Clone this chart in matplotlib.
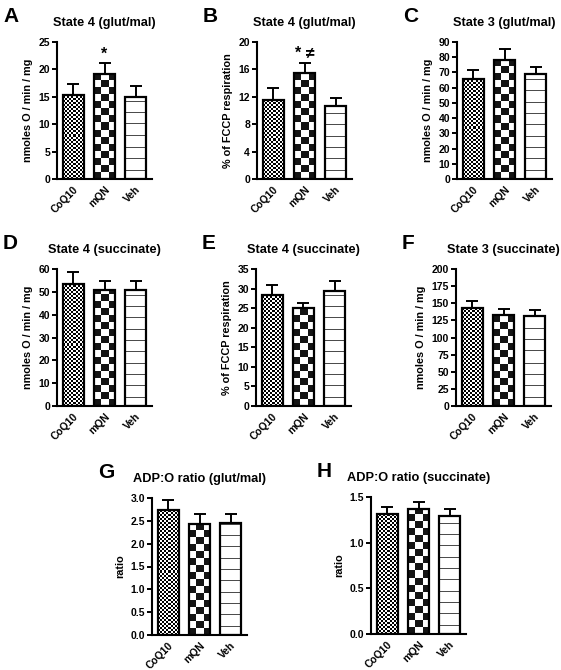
import numpy as np
import matplotlib
matplotlib.use("Agg")
import matplotlib.pyplot as plt
from matplotlib.ticker import FormatStrFormatter

plt.rcParams.update({
    "font.family": ["Liberation Sans", "DejaVu Sans"],
    "font.weight": "bold",
    "axes.labelweight": "bold",
    "axes.titleweight": "bold",
})

groups = ["CoQ10", "mQN", "Veh"]
textures = ["fine", "coarse", "lines"]

# means and upper error (SEM)
a_mean = [15.4, 19.2, 15.0]
a_err = [2.0, 1.9, 1.9]
b_mean = [11.6, 15.5, 10.6]
b_err = [1.7, 1.5, 1.2]
c_mean = [65.8, 78.4, 68.9]
c_err = [5.5, 7.2, 4.8]
d_mean = [53.6, 50.7, 50.8]
d_err = [4.9, 3.9, 4.0]
e_mean = [28.3, 25.0, 29.3]
e_err = [2.5, 1.3, 2.7]
f_mean = [142.7, 132.5, 132.0]
f_err = [10.2, 8.8, 7.8]
g_mean = [2.74, 2.43, 2.45]
g_err = [0.22, 0.21, 0.20]
h_mean = [1.31, 1.37, 1.29]
h_err = [0.08, 0.08, 0.08]

nmol = "nmoles O / min / mg"
fccp = "% of FCCP respiration"

# letter, title, ylabel, means, errs, ymax, ystep, fmt, annotation, (left px, top px)
panels = [
    ("A", "State 4 (glut/mal)", nmol, a_mean, a_err, 25, 5, "%d", "*", (57, 42)),
    ("B", "State 4 (glut/mal)", fccp, b_mean, b_err, 20, 4, "%d", "* \u2260", (257, 42)),
    ("C", "State 3 (glut/mal)", nmol, c_mean, c_err, 90, 10, "%d", None, (457, 42)),
    ("D", "State 4 (succinate)", nmol, d_mean, d_err, 60, 10, "%d", None, (57, 269)),
    ("E", "State 4 (succinate)", fccp, e_mean, e_err, 35, 5, "%d", None, (256, 269)),
    ("F", "State 3 (succinate)", nmol, f_mean, f_err, 200, 25, "%d", None, (456, 269)),
    ("G", "ADP:O ratio (glut/mal)", "ratio", g_mean, g_err, 3.0, 0.5, "%.1f", None, (152, 498)),
    ("H", "ADP:O ratio (succinate)", "ratio", h_mean, h_err, 1.5, 0.5, "%.1f", None, (371, 497)),
]

W, H = 561, 670
AX_W, AX_H = 95, 137


def pattern(kind, w, h):
    yy, xx = np.mgrid[0:h, 0:w]
    if kind == "fine":
        return ((xx // 2 + yy // 2) % 2).astype(float)
    if kind == "coarse":
        return 0.08 + 0.92 * (((xx // 7) + (yy // 7)) % 2)
    img = np.ones((h, w))
    img[(yy >= 8) & (((yy - 8) % 11.3) < 1)] = 0.3
    return img


fig = plt.figure(figsize=(W / 100, H / 100), dpi=100)

for letter, title, ylab, means, errs, ymax, ystep, fmt, note, (lx, ty) in panels:
    ax = fig.add_axes([lx / W, (H - ty - AX_H) / H, AX_W / W, AX_H / H])
    x = np.arange(len(groups))
    ax.set_xlim(-0.53, 2.53)
    ax.set_ylim(0, ymax)

    bars = ax.bar(x, means, width=0.68, facecolor="none", edgecolor="black",
                  linewidth=1.6, zorder=3)
    for bar, kind in zip(bars, textures):
        x0, y0 = ax.transData.transform((bar.get_x(), 0))
        x1, y1 = ax.transData.transform((bar.get_x() + bar.get_width(), bar.get_height()))
        img = pattern(kind, max(int(round(x1 - x0)), 1), max(int(round(y1 - y0)), 1))
        ax.imshow(img, cmap="gray", vmin=0, vmax=1, origin="lower", aspect="auto",
                  interpolation="nearest", zorder=2,
                  extent=(bar.get_x(), bar.get_x() + bar.get_width(), 0, bar.get_height()))

    ax.errorbar(x, means, yerr=[np.zeros(len(errs)), errs], fmt="none", ecolor="black",
                elinewidth=1.4, capsize=4.3, capthick=1.4, zorder=2.5)

    if note:
        ax.text(x[1], means[1] + errs[1] + ymax * 0.01, note, ha="center", va="bottom",
                fontsize=11.5, fontweight="bold")

    ax.set_xlim(-0.53, 2.53)
    ax.set_ylim(0, ymax)
    ax.set_yticks(np.arange(0, ymax + ystep / 2, ystep))
    ax.yaxis.set_major_formatter(FormatStrFormatter(fmt))
    ax.set_xticks(x)
    ax.set_xticklabels(groups, rotation=45, ha="right", rotation_mode="anchor", fontsize=7.5)
    ax.tick_params(axis="x", length=0, pad=4)
    ax.tick_params(axis="y", length=3.5, width=1.4, labelsize=7.5, pad=1.5)
    for side in ["top", "right"]:
        ax.spines[side].set_visible(False)
    for side in ["left", "bottom"]:
        ax.spines[side].set_linewidth(1.5)
    ax.set_ylabel(ylab, fontsize=7.8, labelpad=4)
    ax.set_title(title, fontsize=9.2, pad=11.5)

    fig.text((lx - 54) / W, 1 - (ty - 35) / H, letter, fontsize=15, fontweight="bold",
             ha="left", va="top")

fig.savefig("out.png", dpi=100)
